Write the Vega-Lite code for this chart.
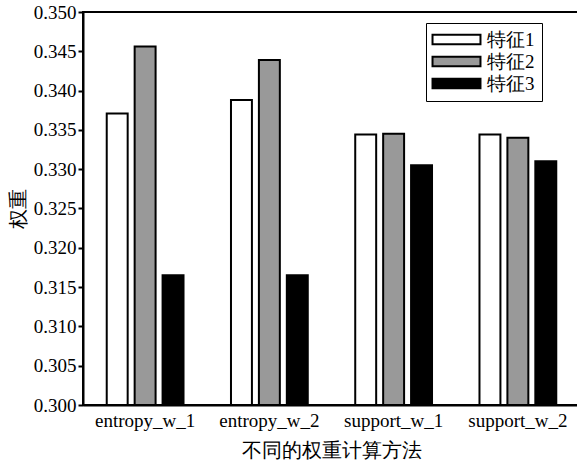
{
  "$schema": "https://vega.github.io/schema/vega-lite/v6.json",
  "width": 497,
  "height": 393,
  "autosize": "none",
  "padding": {"left": 83, "top": 12, "right": 0, "bottom": 59},
  "background": "white",
  "config": {
    "font": "Liberation Serif, DejaVu Serif, serif",
    "view": {"stroke": "black", "strokeWidth": 2},
    "axis": {
      "domainColor": "black",
      "domainWidth": 2,
      "tickColor": "black",
      "tickWidth": 2,
      "labelColor": "black",
      "titleColor": "black",
      "labelFont": "Liberation Serif, DejaVu Serif, serif",
      "titleFont": "Liberation Serif, DejaVu Serif, serif",
      "titleFontWeight": "normal",
      "grid": false
    }
  },
  "data": {
    "values": [
      {"method": "entropy_w_1", "feature": "特征1", "weight": 0.3371},
      {"method": "entropy_w_1", "feature": "特征2", "weight": 0.3456},
      {"method": "entropy_w_1", "feature": "特征3", "weight": 0.3165},
      {"method": "entropy_w_2", "feature": "特征1", "weight": 0.3388},
      {"method": "entropy_w_2", "feature": "特征2", "weight": 0.3439},
      {"method": "entropy_w_2", "feature": "特征3", "weight": 0.3165},
      {"method": "support_w_1", "feature": "特征1", "weight": 0.3344},
      {"method": "support_w_1", "feature": "特征2", "weight": 0.3345},
      {"method": "support_w_1", "feature": "特征3", "weight": 0.3305},
      {"method": "support_w_2", "feature": "特征1", "weight": 0.3344},
      {"method": "support_w_2", "feature": "特征2", "weight": 0.3340},
      {"method": "support_w_2", "feature": "特征3", "weight": 0.3310}
    ]
  },
  "mark": {"type": "bar", "stroke": "black", "strokeWidth": 2},
  "encoding": {
    "x": {
      "field": "method",
      "type": "nominal",
      "sort": null,
      "scale": {"paddingInner": 0, "paddingOuter": 0},
      "axis": {
        "title": "不同的权重计算方法",
        "titleFontSize": 20,
        "titlePadding": 10,
        "labelAngle": 0,
        "labelFontSize": 19,
        "labelPadding": 6,
        "ticks": false
      }
    },
    "xOffset": {
      "field": "feature",
      "type": "nominal",
      "sort": null,
      "scale": {"paddingInner": 0.25, "paddingOuter": 0.85}
    },
    "y": {
      "field": "weight",
      "type": "quantitative",
      "scale": {"domain": [0.3, 0.35], "zero": false, "nice": false},
      "axis": {
        "title": "权重",
        "titleFontSize": 20,
        "titlePadding": 5,
        "labelFontSize": 19,
        "labelPadding": 2,
        "tickSize": 5,
        "values": [0.3, 0.305, 0.31, 0.315, 0.32, 0.325, 0.33, 0.335, 0.34, 0.345, 0.35],
        "format": ".3f"
      }
    },
    "y2": {"datum": 0.3},
    "fill": {
      "field": "feature",
      "type": "nominal",
      "scale": {"domain": ["特征1", "特征2", "特征3"], "range": ["#ffffff", "#999999", "#000000"]},
      "legend": {
        "title": "\u3000\u2002",
        "titleOrient": "right",
        "titlePadding": 0,
        "titleFontSize": 19,
        "orient": "none",
        "legendX": 343,
        "legendY": 11,
        "direction": "vertical",
        "padding": 7,
        "strokeColor": "black",
        "symbolType": "M-5,-1H5V1H-5Z",
        "symbolSize": 92,
        "symbolOffset": 14,
        "symbolStrokeColor": "black",
        "symbolStrokeWidth": 2,
        "labelFontSize": 19,
        "labelFont": "Liberation Serif, DejaVu Serif, serif",
        "labelColor": "black",
        "labelOffset": 21,
        "rowPadding": 2
      }
    }
  }
}
